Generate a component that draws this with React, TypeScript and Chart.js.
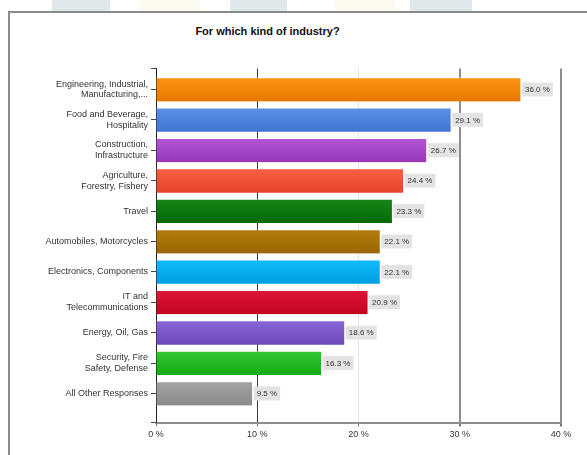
import React, { useEffect, useRef } from "react";
import { Chart, registerables } from "chart.js";

Chart.register(...registerables);

const chartTitle = "For which kind of industry?";
const categories: (string | string[])[] = [
  ["Engineering, Industrial,", "Manufacturing,..."],
  ["Food and Beverage,", "Hospitality"],
  ["Construction,", "Infrastructure"],
  ["Agriculture,", "Forestry, Fishery"],
  "Travel",
  "Automobiles, Motorcycles",
  "Electronics, Components",
  ["IT and", "Telecommunications"],
  "Energy, Oil, Gas",
  ["Security, Fire", "Safety, Defense"],
  "All Other Responses",
];
const values = [36.0, 29.1, 26.7, 24.4, 23.3, 22.1, 22.1, 20.9, 18.6, 16.3, 9.5];
const xTickValues = [0, 10, 20, 30, 40];
const topColors = ["#fc9412", "#5a90e6", "#b453d6", "#fa6044", "#188618", "#b47e10", "#10bcfa", "#dc1836", "#8a66d8", "#34c834", "#a4a4a4"];
const bottomColors = ["#e67800", "#4273d2", "#9738b8", "#e4442a", "#046804", "#9a6602", "#009ede", "#c2041f", "#6c4cb8", "#14aa14", "#8a8a8a"];

const FONT = '"Liberation Sans", Arial, sans-serif';

const valueLabelPlugin = {
  id: "valueLabels",
  afterDatasetsDraw(chart: any) {
    const ctx = chart.ctx;
    const meta = chart.getDatasetMeta(0);
    ctx.save();
    ctx.font = `8px ${FONT}`;
    ctx.textBaseline = "middle";
    meta.data.forEach((bar: any, i: number) => {
      const text = values[i].toFixed(1) + " %";
      const w = ctx.measureText(text).width + 6;
      const x = bar.x + 1.5;
      const y = bar.y;
      ctx.fillStyle = "#e3e3e3";
      ctx.fillRect(x, y - 7, w, 14);
      ctx.fillStyle = "#333";
      ctx.fillText(text, x + 3, y + 0.5);
    });
    ctx.restore();
  },
};

export default function App() {
  const ref = useRef<HTMLCanvasElement>(null);

  useEffect(() => {
    if (!ref.current) return;
    const yMin = -0.69;
    const yMax = 10.955;
    const chart = new Chart(ref.current, {
      type: "bar",
      data: {
        datasets: [
          {
            data: values.map((v, i) => ({ x: v, y: i })) as any,
            backgroundColor: (c: any) => {
              const i = c.dataIndex;
              const ch = c.chart;
              if (c.type !== "data" || !ch.chartArea || !ch.scales.y) return topColors[i];
              const y = ch.scales.y.getPixelForValue(i);
              const g = ch.ctx.createLinearGradient(0, y - 12, 0, y + 12);
              g.addColorStop(0, topColors[i]);
              g.addColorStop(1, bottomColors[i]);
              return g;
            },
            borderColor: "rgba(255,255,255,0.35)",
            borderWidth: { top: 1, left: 0, right: 0, bottom: 0 },
            borderSkipped: false,
            barThickness: 24,
          },
        ],
      },
      options: {
        indexAxis: "y",
        animation: false,
        responsive: false,
        devicePixelRatio: 1,
        layout: { padding: { top: 68.5, right: 26, left: 0, bottom: 0 } },
        plugins: {
          legend: { display: false },
          tooltip: { enabled: false },
          title: { display: false },
        },
        scales: {
          x: {
            type: "linear",
            min: 0,
            max: 40,
            afterBuildTicks: (s: any) => {
              s.ticks = xTickValues.map((v) => ({ value: v }));
            },
            afterFit: (s: any) => {
              s.height = 32.5;
            },
            ticks: {
              callback: (v: any) => v + " %",
              font: { size: 9, family: FONT },
              color: "#333",
              padding: 3,
              maxRotation: 0,
            },
            grid: {
              color: (c: any) => {
                const v = c.tick ? c.tick.value : 0;
                if (v === 10) return "#3c3c3c";
                if (v === 20) return "#e2e2e2";
                if (v === 0) return "rgba(0,0,0,0)";
                return "#8e8e8e";
              },
              lineWidth: (c: any) => {
                const v = c.tick ? c.tick.value : 0;
                return v >= 30 ? 2 : 1;
              },
              tickColor: "#777",
              tickLength: 4,
            },
            border: { display: true, color: "#8e8e8e", width: 2 },
          },
          y: {
            type: "linear",
            reverse: true,
            bounds: "data",
            offset: false,
            min: yMin,
            max: yMax,
            afterBuildTicks: (s: any) => {
              s.ticks = [yMax, ...categories.map((_, i) => categories.length - 1 - i), yMin].map((v) => ({ value: v }));
            },
            afterFit: (s: any) => {
              s.width = 156;
            },
            ticks: {
              callback: (v: any) => (Number.isInteger(v) && categories[v] !== undefined ? categories[v] : ""),
              font: { size: 9, family: FONT, lineHeight: 1.2 },
              color: "#333",
              padding: 3,
              autoSkip: false,
            },
            grid: {
              offset: false,
              drawOnChartArea: false,
              tickLength: 5,
              tickColor: "#444",
              color: "#444",
            },
            border: { display: true, color: "#222", width: 1 },
          },
        },
      },
      plugins: [valueLabelPlugin],
    } as any);
    return () => chart.destroy();
  }, []);

  const block = (left: number, width: number, color: string) => (
    <div style={{ position: "absolute", left, top: 0, width, height: 11, background: color }} />
  );

  return (
    <div style={{ position: "absolute", left: 0, top: 0, width: 587, height: 455, overflow: "hidden", background: "#fff" }}>
      {block(52, 58, "#dfe8ea")}
      {block(140, 60, "#fdfbef")}
      {block(230, 57, "#dfe8ea")}
      {block(335, 60, "#fdfbef")}
      {block(410, 62, "#dfe8ea")}
      <div
        style={{
          position: "absolute",
          left: 8,
          top: 11,
          width: 600,
          height: 460,
          border: "2px solid #8a8a8a",
          boxSizing: "border-box",
        }}
      />
      <div
        style={{
          position: "absolute",
          left: 0,
          top: 25,
          width: 535,
          textAlign: "center",
          font: `bold 11px ${FONT}`,
          color: "#111",
        }}
      >
        {chartTitle}
      </div>
      <canvas ref={ref} width={587} height={455} style={{ position: "absolute", left: 0, top: 0, width: 587, height: 455 }} />
    </div>
  );
}
